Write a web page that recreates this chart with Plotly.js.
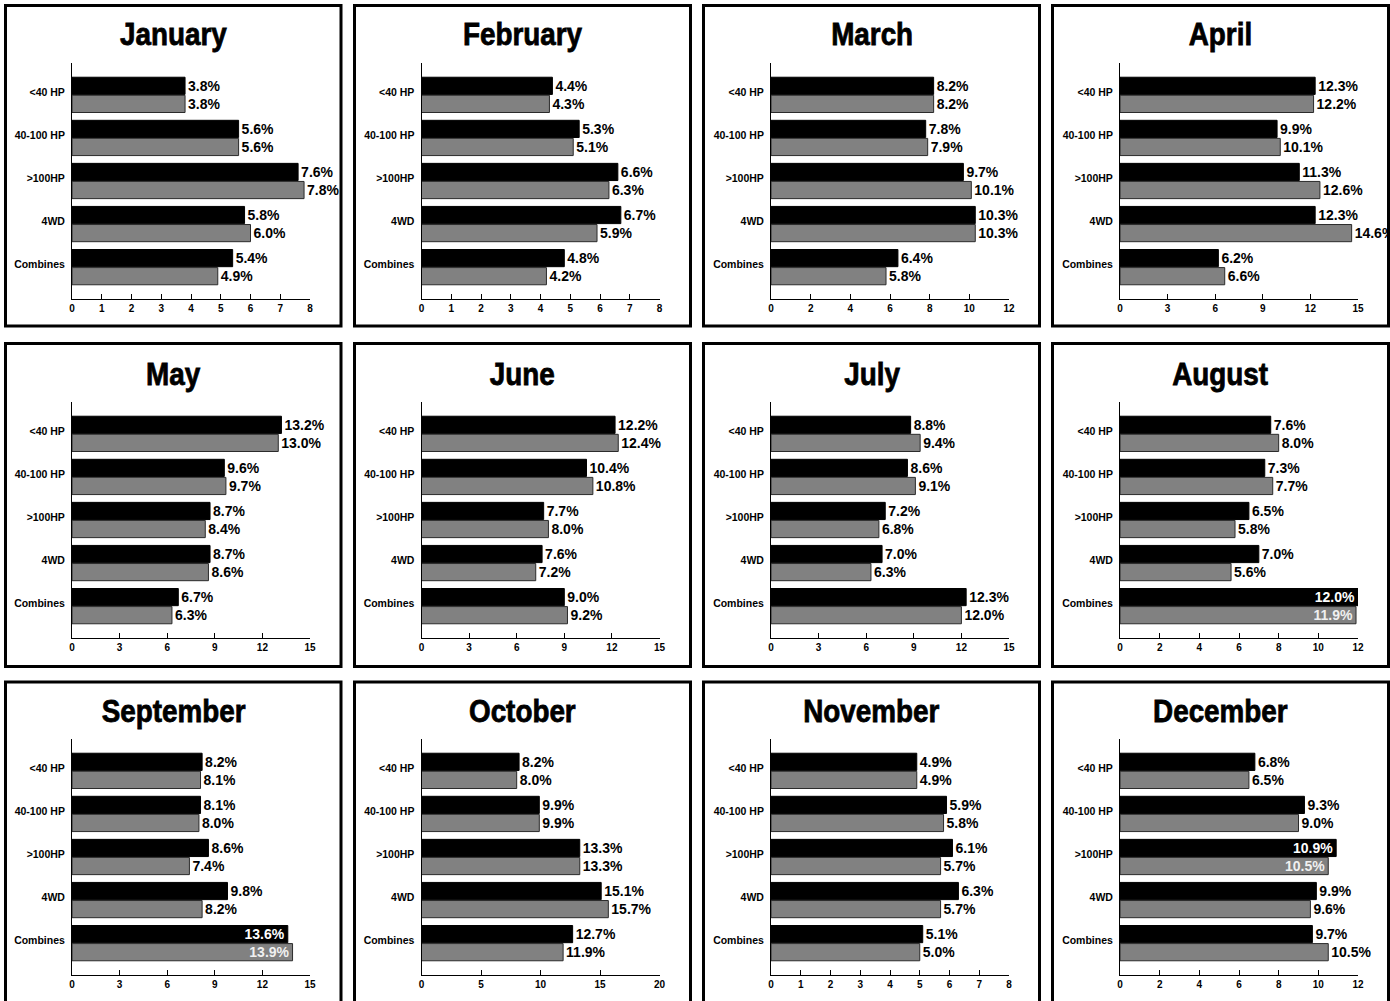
<!DOCTYPE html>
<html>
<head>
<meta charset="utf-8">
<script src="https://cdn.plot.ly/plotly-3.0.1.min.js"></script>
<style>
  html, body { margin: 0; padding: 0; background: #fff; }
  #chart { width: 1390px; height: 1001px; }
</style>
</head>
<body>
<div id="chart"></div>
<script>
// Monthly share by machine class, two series per month (dark and light bars)
const months = ['January', 'February', 'March', 'April', 'May', 'June',
                'July', 'August', 'September', 'October', 'November', 'December'];
const categories = ['<40 HP', '40-100 HP', '>100HP', '4WD', 'Combines'];

const seriesDark = [
  [3.8, 5.6, 7.6, 5.8, 5.4],
  [4.4, 5.3, 6.6, 6.7, 4.8],
  [8.2, 7.8, 9.7, 10.3, 6.4],
  [12.3, 9.9, 11.3, 12.3, 6.2],
  [13.2, 9.6, 8.7, 8.7, 6.7],
  [12.2, 10.4, 7.7, 7.6, 9.0],
  [8.8, 8.6, 7.2, 7.0, 12.3],
  [7.6, 7.3, 6.5, 7.0, 12.0],
  [8.2, 8.1, 8.6, 9.8, 13.6],
  [8.2, 9.9, 13.3, 15.1, 12.7],
  [4.9, 5.9, 6.1, 6.3, 5.1],
  [6.8, 9.3, 10.9, 9.9, 9.7]
];
const seriesLight = [
  [3.8, 5.6, 7.8, 6.0, 4.9],
  [4.3, 5.1, 6.3, 5.9, 4.2],
  [8.2, 7.9, 10.1, 10.3, 5.8],
  [12.2, 10.1, 12.6, 14.6, 6.6],
  [13.0, 9.7, 8.4, 8.6, 6.3],
  [12.4, 10.8, 8.0, 7.2, 9.2],
  [9.4, 9.1, 6.8, 6.3, 12.0],
  [8.0, 7.7, 5.8, 5.6, 11.9],
  [8.1, 8.0, 7.4, 8.2, 13.9],
  [8.0, 9.9, 13.3, 15.7, 11.9],
  [4.9, 5.8, 5.7, 5.7, 5.0],
  [6.5, 9.0, 10.5, 9.6, 10.5]
];
const axisMax = [8, 8, 12, 15, 15, 15, 15, 12, 15, 20, 8, 12];
const axisStep = [1, 1, 2, 3, 3, 3, 3, 2, 3, 5, 1, 2];
// category whose value labels are written inside the bar ends (-1 = none)
const insideLabelRow = [-1, -1, -1, -1, -1, -1, -1, 4, 4, -1, -1, 2];

// page geometry in pixels
const W = 1390, H = 1001;
const plotLeft = [72, 421.5, 771, 1120];
const plotWidth = 238;
const plotTop = [63, 402, 739];
const plotHeight = 236;
const boxX = [[5.5, 341], [354.5, 690.5], [703.5, 1039.5], [1052.5, 1388.5]];
const boxY = [[5.5, 326], [343.5, 666.5], [682, 1012]];
const titleY = [34, 374, 711];

const BODY_FONT = 'Liberation Sans, Arial, sans-serif';
const TITLE_FONT = 'Liberation Sans, Arial, sans-serif';
const DARK = '#000000';
const LIGHT = '#818181';

const data = [];
const layout = {
  width: W, height: H,
  margin: { l: 0, r: 0, t: 0, b: 0, pad: 0 },
  paper_bgcolor: '#fff', plot_bgcolor: 'rgba(0,0,0,0)',
  barmode: 'group', bargap: 0.16, bargroupgap: 0.05,
  showlegend: false,
  shapes: [], annotations: []
};

const pct = v => v.toFixed(1) + '%';

months.forEach((month, i) => {
  const r = Math.floor(i / 4), c = i % 4;
  const xId = i === 0 ? 'x' : 'x' + (i + 1);
  const yId = i === 0 ? 'y' : 'y' + (i + 1);
  const xKey = i === 0 ? 'xaxis' : 'xaxis' + (i + 1);
  const yKey = i === 0 ? 'yaxis' : 'yaxis' + (i + 1);
  const positions = categories.map((_, k) => k === insideLabelRow[i] ? 'inside' : 'outside');

  const barTrace = (values, fill, edge, insideColor) => ({
    type: 'bar', orientation: 'h',
    x: values, y: categories,
    xaxis: xId, yaxis: yId,
    marker: { color: fill, line: { color: edge, width: 1 } },
    text: values.map(pct),
    textposition: positions,
    insidetextanchor: 'end',
    constraintext: 'none',
    cliponaxis: false,
    insidetextfont: { family: BODY_FONT, size: 14, weight: 'bold', color: insideColor },
    outsidetextfont: { family: BODY_FONT, size: 14, weight: 'bold', color: '#000' },
    hoverinfo: 'skip'
  });

  data.push(barTrace(seriesDark[i], DARK, '#000', '#ffffff'));
  data.push(barTrace(seriesLight[i], LIGHT, '#2b2b2b', '#f0f0f0'));

  layout[xKey] = {
    domain: [plotLeft[c] / W, (plotLeft[c] + plotWidth) / W],
    anchor: yId,
    range: [0, axisMax[i]], autorange: false,
    tick0: 0, dtick: axisStep[i],
    ticks: 'inside', ticklen: 5, tickwidth: 1, tickcolor: '#000',
    showline: true, linecolor: '#000', linewidth: 1,
    showgrid: false, zeroline: false,
    tickfont: { family: BODY_FONT, size: 10, weight: 'bold', color: '#000' },
    fixedrange: true
  };
  const top = plotTop[r], bottom = plotTop[r] + plotHeight;
  layout[yKey] = {
    domain: [1 - bottom / H, 1 - top / H],
    anchor: xId,
    type: 'category', categoryorder: 'array', categoryarray: categories,
    range: [4.74, -0.74], autorange: false,
    ticks: '', ticklabelstandoff: 4, ticklabelshift: 3,
    showline: true, linecolor: '#000', linewidth: 1,
    showgrid: false, zeroline: false,
    tickfont: { family: BODY_FONT, size: 10.5, weight: 'bold', color: '#000' },
    fixedrange: true
  };

  layout.shapes.push({
    type: 'rect', xref: 'paper', yref: 'paper',
    x0: boxX[c][0] / W, x1: boxX[c][1] / W,
    y0: 1 - boxY[r][1] / H, y1: 1 - boxY[r][0] / H,
    line: { color: '#000', width: 3 }, fillcolor: 'rgba(0,0,0,0)'
  });
  layout.annotations.push({
    xref: 'paper', yref: 'paper',
    x: (boxX[c][0] + boxX[c][1]) / 2 / W, y: 1 - titleY[r] / H,
    xanchor: 'center', yanchor: 'middle', showarrow: false,
    text: month,
    font: { family: TITLE_FONT, size: 32, weight: 'bold', color: '#000' }
  });
});

Plotly.newPlot('chart', data, layout, { displayModeBar: false, staticPlot: true })
  .then(gd => {
    // month headings: set in a condensed, heavier cut of the bold face
    gd.querySelectorAll('.annotation-text').forEach(t => {
      const w = t.getComputedTextLength();
      t.setAttribute('textLength', (w * 0.87).toFixed(1));
      t.setAttribute('lengthAdjust', 'spacingAndGlyphs');
      t.style.stroke = '#000';
      t.style.strokeWidth = '0.8px';
    });
  });
</script>
</body>
</html>
